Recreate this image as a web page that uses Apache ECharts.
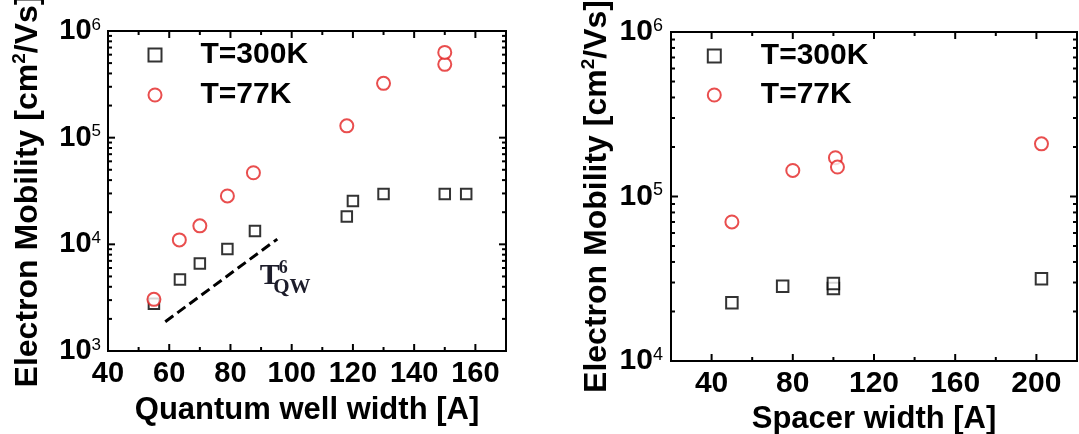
<!DOCTYPE html>
<html>
<head>
<meta charset="utf-8">
<script src="https://cdn.jsdelivr.net/npm/echarts@6/dist/echarts.min.js"></script>
<style>
  html, body { margin: 0; padding: 0; background: #fff; }
  #chart { width: 1079px; height: 434px; }
</style>
</head>
<body>
<div id="chart"></div>
<script>
// Mobility versus quantum well width
const wellX300 = [55, 63.5, 70, 79, 88, 118, 120, 130, 150, 157];
const wellY300 = [2780, 4670, 6600, 9060, 13300, 18200, 25500, 29600, 29600, 29600];
const wellX77 = [55, 63.3, 70, 79, 87.5, 118, 130, 150, 150];
const wellY77 = [3050, 11000, 14900, 28400, 46900, 129000, 323000, 487000, 630000];

// Mobility versus spacer width
const spacerX300 = [50, 75, 100, 100, 202.5];
const spacerY300 = [22600, 28500, 27600, 29600, 31600];
const spacerX77 = [50, 80, 101, 102, 202.5];
const spacerY77 = [70000, 144000, 172000, 151000, 209000];

// T_QW^6 guide line and where its label sits
const guideX = [58.7, 95.3];
const guideY = [1880, 11200];
const guideLabelAt = [89.6, 5000];

// Axis ranges and ticks
const wellXRange = [40, 170];
const wellYRange = [1e3, 1e6];
const spacerXRange = [20, 220];
const spacerYRange = [1e4, 1e6];
const wellXTicks = [40, 60, 80, 100, 120, 140, 160];
const wellXMinor = [50, 70, 90, 110, 130, 150];
const spacerXTicks = [40, 80, 120, 160, 200];
const spacerXMinor = [60, 100, 140, 180];
const wellYTicks = [1e3, 1e4, 1e5, 1e6];
const spacerYTicks = [1e4, 1e5, 1e6];
const wellYMinor = [2e3, 3e3, 4e3, 5e3, 6e3, 7e3, 8e3, 9e3, 2e4, 3e4, 4e4, 5e4, 6e4, 7e4, 8e4, 9e4, 2e5, 3e5, 4e5, 5e5, 6e5, 7e5, 8e5, 9e5];
const spacerYMinor = [2e4, 3e4, 4e4, 5e4, 6e4, 7e4, 8e4, 9e4, 2e5, 3e5, 4e5, 5e5, 6e5, 7e5, 8e5, 9e5];

const legendNames = ['T=300K', 'T=77K'];
const wellXName = 'Quantum well width [A]';
const spacerXName = 'Spacer width [A]';
const yName = '{m|Electron Mobility [cm}{s|2}{m|/Vs]}';

const SANS = '"Liberation Sans", Arial, Helvetica, sans-serif';
const SERIF = '"Liberation Serif", "Times New Roman", serif';
const RED = '#e32222';

const zip = (xs, ys) => xs.map((x, i) => [x, ys[i]]);

function xAxisFor(gridIndex, range, ticks, fs, margin, name, nameGap) {
  return {
    type: 'value', gridIndex, min: range[0], max: range[1], position: 'bottom',
    splitLine: { show: false },
    axisLine: { show: true, lineStyle: { color: '#000', width: 2 } },
    axisTick: { show: false },
    axisLabel: { customValues: ticks, margin, color: '#000', fontSize: fs, fontWeight: 'bold', fontFamily: SANS },
    name, nameLocation: 'middle', nameGap,
    nameTextStyle: { color: '#000', fontSize: 31, fontWeight: 'bold', fontFamily: SANS, lineHeight: 31 }
  };
}

function yAxisFor(gridIndex, range, ticks, fs, sfs, margin, nameGap) {
  return {
    type: 'log', logBase: 10, gridIndex, min: range[0], max: range[1], position: 'left',
    splitLine: { show: false },
    minorTick: { show: false },
    axisLine: { show: true, lineStyle: { color: '#000', width: 2 } },
    axisTick: { show: false },
    axisLabel: {
      customValues: ticks, margin, color: '#000',
      formatter: v => '{b|10}{s|' + Math.round(Math.log10(v)) + '}',
      rich: {
        b: { fontSize: fs, fontWeight: 'bold', fontFamily: SANS, lineHeight: fs, padding: [6, 0, 6, 0], color: '#000' },
        s: { fontSize: sfs, fontFamily: SANS, lineHeight: sfs, verticalAlign: 'top', color: '#000' }
      }
    },
    name: yName, nameLocation: 'middle', nameGap, nameRotate: 90,
    nameTextStyle: {
      color: '#000', fontSize: 32, fontWeight: 'bold', fontFamily: SANS,
      rich: {
        m: { fontSize: 32, fontWeight: 'bold', fontFamily: SANS, lineHeight: 36, color: '#000' },
        s: { fontSize: 19, fontFamily: SANS, lineHeight: 19, verticalAlign: 'top', color: '#000' }
      }
    }
  };
}

// Inward tick marks on all four edges of a plot, placed through the axes' scales
function tickMarks(xi, yi, xVals, yVals, xRange, yRange, len) {
  const w = 2;
  const data = [];
  xVals.forEach(u => {
    data.push({ value: [u, yRange[0]], symbolSize: [w, len], symbolOffset: [0, -len / 2] });
    data.push({ value: [u, yRange[1]], symbolSize: [w, len], symbolOffset: [0, len / 2] });
  });
  yVals.forEach(v => {
    data.push({ value: [xRange[0], v], symbolSize: [len, w], symbolOffset: [len / 2, 0] });
    data.push({ value: [xRange[1], v], symbolSize: [len, w], symbolOffset: [-len / 2, 0] });
  });
  return {
    type: 'scatter', xAxisIndex: xi, yAxisIndex: yi, silent: true, clip: false, z: 6,
    symbol: 'rect', data,
    itemStyle: { color: '#000', borderWidth: 0, opacity: 1 },
    emphasis: { disabled: true }, tooltip: { show: false }
  };
}

function legendFor(left, top, gap, pad) {
  return {
    data: legendNames, orient: 'vertical', left, top, padding: 0,
    itemWidth: 13, itemHeight: 13, itemGap: gap,
    selectedMode: false,
    itemStyle: { borderWidth: 2 },
    textStyle: { color: '#000', fontSize: 30, fontWeight: 'bold', fontFamily: SANS, lineHeight: 30, padding: [0, 0, 0, pad] }
  };
}

const chart = echarts.init(document.getElementById('chart'), null, { renderer: 'canvas' });

const frame = { show: true, borderColor: '#000', borderWidth: 2, backgroundColor: 'transparent', containLabel: false, outerBoundsMode: 'none' };

chart.setOption({
  backgroundColor: '#fff',
  animation: false,
  grid: [
    Object.assign({ left: 108, top: 31, width: 398, height: 320 }, frame),
    Object.assign({ left: 671, top: 32, width: 406, height: 329 }, frame)
  ],
  legend: [
    legendFor(147.5, 40, 10, 34),
    legendFor(706.8, 41, 9, 35)
  ],
  xAxis: [
    xAxisFor(0, wellXRange, wellXTicks, 29, 8, wellXName, 44),
    xAxisFor(1, spacerXRange, spacerXTicks, 30, 8, spacerXName, 38)
  ],
  yAxis: [
    yAxisFor(0, wellYRange, wellYTicks, 29, 17, 7, 62),
    yAxisFor(1, spacerYRange, spacerYTicks, 30, 18, 8, 56)
  ],
  series: [
    tickMarks(0, 0, wellXTicks, wellYTicks, wellXRange, wellYRange, 7),
    tickMarks(0, 0, wellXMinor, wellYMinor, wellXRange, wellYRange, 4),
    tickMarks(1, 1, spacerXTicks, spacerYTicks, spacerXRange, spacerYRange, 7),
    tickMarks(1, 1, spacerXMinor, spacerYMinor, spacerXRange, spacerYRange, 4),
    {
      name: 'guide', type: 'line', xAxisIndex: 0, yAxisIndex: 0, silent: true, z: 2,
      data: zip(guideX, guideY), symbol: 'none',
      lineStyle: { color: '#000', width: 3, type: [10, 5] }
    },
    {
      name: 'T=300K', type: 'scatter', xAxisIndex: 0, yAxisIndex: 0, z: 3,
      data: zip(wellX300, wellY300), symbol: 'emptyRect', symbolSize: 10.5,
      itemStyle: { color: '#000', borderColor: '#000', borderWidth: 2 }
    },
    {
      name: 'T=77K', type: 'scatter', xAxisIndex: 0, yAxisIndex: 0, z: 3,
      data: zip(wellX77, wellY77), symbol: 'emptyCircle', symbolSize: 13,
      itemStyle: { color: RED, borderColor: RED, borderWidth: 2 }
    },
    {
      name: 'T=300K', type: 'scatter', xAxisIndex: 1, yAxisIndex: 1, z: 3,
      data: zip(spacerX300, spacerY300), symbol: 'emptyRect', symbolSize: 11.5,
      itemStyle: { color: '#000', borderColor: '#000', borderWidth: 2 }
    },
    {
      name: 'T=77K', type: 'scatter', xAxisIndex: 1, yAxisIndex: 1, z: 3,
      data: zip(spacerX77, spacerY77), symbol: 'emptyCircle', symbolSize: 13,
      itemStyle: { color: RED, borderColor: RED, borderWidth: 2 }
    },
    {
      name: 'guide label', type: 'custom', xAxisIndex: 0, yAxisIndex: 0, silent: true, z: 4,
      data: [guideLabelAt],
      renderItem(params, api) {
        const p = api.coord([api.value(0), api.value(1)]);
        const ink = '#1c1c2a';
        return { type: 'group', x: p[0], y: p[1], children: [
          { type: 'text', style: { text: 'T', x: 0, y: 0, fill: ink, font: 'bold 30px ' + SERIF, align: 'left', verticalAlign: 'middle' } },
          { type: 'text', style: { text: '6', x: 19, y: -8, fill: ink, font: 'bold 18px ' + SERIF, align: 'left', verticalAlign: 'middle' } },
          { type: 'text', style: { text: 'QW', x: 13.3, y: 10.8, fill: ink, font: 'bold 21px ' + SERIF, align: 'left', verticalAlign: 'middle' } }
        ] };
      }
    }
  ]
});
</script>
</body>
</html>
